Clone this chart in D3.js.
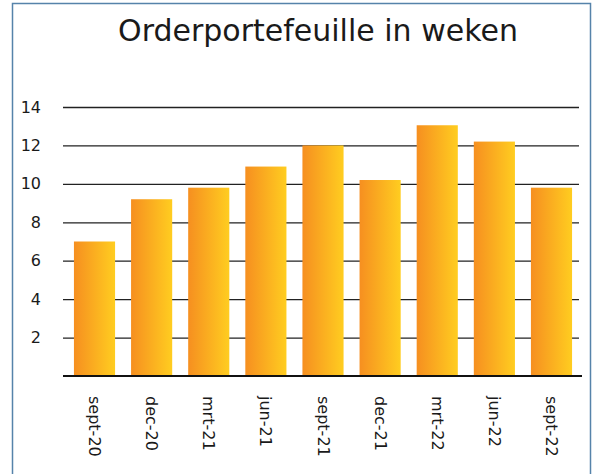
<!DOCTYPE html>
<html>
<head>
<meta charset="utf-8">
<script src="https://cdn.jsdelivr.net/npm/d3@7"></script>
<style>
  html, body { margin: 0; padding: 0; background: #fff; }
  svg { display: block; }
</style>
</head>
<body>
<div id="chart"></div>
<script>
const title = "Orderportefeuille in weken";
const categories = ["sept-20", "dec-20", "mrt-21", "jun-21", "sept-21", "dec-21", "mrt-22", "jun-22", "sept-22"];
const values = [7.0, 9.2, 9.8, 10.9, 12.0, 10.2, 13.05, 12.2, 9.8];
const yTicks = [2, 4, 6, 8, 10, 12, 14];

const W = 593, H = 474;
const svg = d3.select("#chart").append("svg").attr("width", W).attr("height", H);

const defs = svg.append("defs");
const grad = defs.append("linearGradient").attr("id", "barGrad")
  .attr("x1", "0%").attr("x2", "100%").attr("y1", "0%").attr("y2", "0%");
grad.append("stop").attr("offset", "0%").attr("stop-color", "#F68F20");
grad.append("stop").attr("offset", "100%").attr("stop-color", "#FFCD20");

// outer border
svg.append("rect").attr("x", 12.5).attr("y", 3.5).attr("width", 578).attr("height", 480)
  .attr("fill", "none").attr("stroke", "#5683aa").attr("stroke-width", 1.5);

const x = d3.scaleBand().domain(categories).range([66, 580]).paddingInner(0.28).paddingOuter(0.139);
const y = d3.scaleLinear().domain([0, 14]).range([376, 107]);

// title
const t = svg.append("text").attr("x", 318).attr("y", 41)
  .attr("text-anchor", "middle")
  .style("font-family", "'DejaVu Sans', Verdana, sans-serif")
  .style("font-size", "29px").style("fill", "#1a1a1a").text(title);
const tw = t.node().getComputedTextLength();
t.style("font-size", (29 * 400 / tw) + "px");

// gridlines
const gx0 = 63, gx1 = 579;
const yAxis = d3.axisLeft(y).tickValues(yTicks).tickSize(-(gx1 - gx0)).tickPadding(22).tickFormat(d3.format("d"));
const ga = svg.append("g").attr("transform", `translate(${gx0},0)`).call(yAxis);
ga.select(".domain").remove();
ga.selectAll(".tick line").attr("stroke", "#222").attr("stroke-width", 1.3);
ga.selectAll(".tick text")
  .style("font-family", "'DejaVu Sans', Verdana, sans-serif")
  .style("font-size", "16px").style("fill", "#1a1a1a");

// bars
svg.append("g").selectAll("rect").data(values).join("rect")
  .attr("x", (d, i) => x(categories[i]))
  .attr("y", d => y(d))
  .attr("width", x.bandwidth())
  .attr("height", d => y(0) - y(d))
  .attr("fill", "url(#barGrad)");

// baseline
svg.append("line").attr("x1", gx0).attr("x2", 582).attr("y1", y(0)).attr("y2", y(0))
  .attr("stroke", "#111").attr("stroke-width", 2);

// x labels
svg.append("g").selectAll("text").data(categories).join("text")
  .attr("transform", d => `translate(${x(d) + x.bandwidth() / 2},${y(0) + 20}) rotate(90)`)
  .attr("text-anchor", "start")
  .attr("dominant-baseline", "central")
  .style("font-family", "'DejaVu Sans', Verdana, sans-serif")
  .style("font-size", "16px").style("fill", "#1a1a1a")
  .text(d => d);
</script>
</body>
</html>
